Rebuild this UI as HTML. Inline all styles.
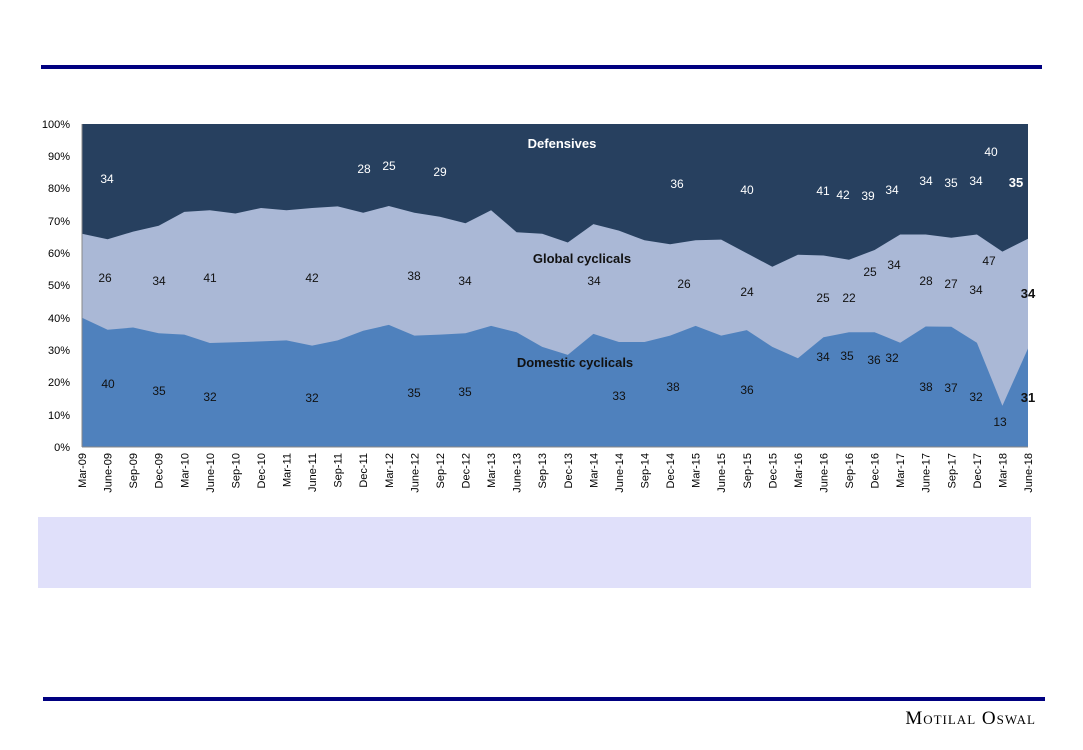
<!DOCTYPE html>
<html><head><meta charset="utf-8"><style>
body{margin:0;background:#fff;width:1083px;height:750px;overflow:hidden;font-family:"Liberation Sans",sans-serif;}
svg{position:absolute;left:0;top:0}
</style></head><body>
<svg id="s" width="1083" height="750" viewBox="0 0 1083 750">
<rect x="41" y="65" width="1001" height="4" fill="#000080"/>
<rect x="43" y="697" width="1002" height="4" fill="#000080"/>
<rect x="38" y="517" width="993" height="71" fill="#e0e0fa"/>
<rect x="82" y="124" width="946" height="323" fill="#27405f"/>
<polygon id="glob" fill="#aab8d6"/>
<polygon id="dom" fill="#4f81bd"/>
<line x1="82" y1="124" x2="82" y2="447" stroke="#888"/>
<line x1="82" y1="447" x2="1028" y2="447" stroke="#888"/>
<g id="yt" font-size="11" fill="#000" text-anchor="end">
<text x="70" y="451">0%</text><text x="70" y="419">10%</text><text x="70" y="386">20%</text><text x="70" y="354">30%</text><text x="70" y="322">40%</text><text x="70" y="289">50%</text><text x="70" y="257">60%</text><text x="70" y="225">70%</text><text x="70" y="192">80%</text><text x="70" y="160">90%</text><text x="70" y="128">100%</text>
</g>
<g id="xt" font-size="11" fill="#000" text-anchor="end">
<text>Mar-09</text><text>June-09</text><text>Sep-09</text><text>Dec-09</text><text>Mar-10</text><text>June-10</text><text>Sep-10</text><text>Dec-10</text><text>Mar-11</text><text>June-11</text><text>Sep-11</text><text>Dec-11</text><text>Mar-12</text><text>June-12</text><text>Sep-12</text><text>Dec-12</text><text>Mar-13</text><text>June-13</text><text>Sep-13</text><text>Dec-13</text><text>Mar-14</text><text>June-14</text><text>Sep-14</text><text>Dec-14</text><text>Mar-15</text><text>June-15</text><text>Sep-15</text><text>Dec-15</text><text>Mar-16</text><text>June-16</text><text>Sep-16</text><text>Dec-16</text><text>Mar-17</text><text>June-17</text><text>Sep-17</text><text>Dec-17</text><text>Mar-18</text><text>June-18</text>
</g>
<g font-size="12" fill="#fff" text-anchor="middle">
<text x="107" y="183">34</text><text x="364" y="173">28</text><text x="389" y="170">25</text><text x="440" y="176">29</text><text x="677" y="188">36</text><text x="747" y="194">40</text><text x="823" y="195">41</text><text x="843" y="199">42</text><text x="868" y="200">39</text><text x="892" y="194">34</text><text x="926" y="185">34</text><text x="951" y="187">35</text><text x="976" y="185">34</text><text x="991" y="156">40</text><text x="1016" y="187" font-weight="bold" font-size="13">35</text>
<text x="562" y="148" font-weight="bold" font-size="13">Defensives</text>
</g>
<g font-size="12" fill="#111" text-anchor="middle">
<text x="105" y="282">26</text><text x="159" y="285">34</text><text x="210" y="282">41</text><text x="312" y="282">42</text><text x="414" y="280">38</text><text x="465" y="285">34</text><text x="594" y="285">34</text><text x="684" y="288">26</text><text x="747" y="296">24</text><text x="823" y="302">25</text><text x="849" y="302">22</text><text x="870" y="276">25</text><text x="894" y="269">34</text><text x="926" y="285">28</text><text x="951" y="288">27</text><text x="976" y="294">34</text><text x="989" y="265">47</text><text x="1028" y="298" font-weight="bold" font-size="13">34</text>
<text x="582" y="263" font-weight="bold" font-size="13">Global cyclicals</text>
<text x="108" y="388">40</text><text x="159" y="395">35</text><text x="210" y="401">32</text><text x="312" y="402">32</text><text x="414" y="397">35</text><text x="465" y="396">35</text><text x="619" y="400">33</text><text x="673" y="391">38</text><text x="747" y="394">36</text><text x="823" y="361">34</text><text x="847" y="360">35</text><text x="874" y="364">36</text><text x="892" y="362">32</text><text x="926" y="391">38</text><text x="951" y="392">37</text><text x="976" y="401">32</text><text x="1000" y="426">13</text><text x="1028" y="402" font-weight="bold" font-size="13">31</text>
<text x="575" y="367" font-weight="bold" font-size="13">Domestic cyclicals</text>
</g>
<text x="1036" y="724" text-anchor="end" font-family="Liberation Serif,serif" font-size="19" fill="#000" style="font-variant:small-caps;letter-spacing:1px">Motilal Oswal</text>
</svg>
<script>
var dom=[40,36.3,37,35.2,34.8,32.2,32.4,32.7,33,31.4,33,36,37.8,34.5,34.8,35.2,37.5,35.5,31,28.5,35,32.5,32.5,34.5,37.5,34.5,36.2,31,27.5,34,35.5,35.5,32.3,37.3,37.2,32.3,12.8,30.5];
var top_=[66,64.3,66.7,68.5,72.8,73.3,72.3,74,73.3,74,74.5,72.5,74.6,72.5,71.3,69.3,73.3,66.5,66,63.3,69,67,64,62.8,64,64.2,60,55.8,59.5,59.3,58,61,65.8,65.8,64.8,65.8,60.5,64.5];
function X(i){return 82+i*946/37;}function Y(p){return 447-p*3.23;}
function poly(a){var s="82,447 ";for(var i=0;i<a.length;i++)s+=X(i).toFixed(1)+","+Y(a[i]).toFixed(1)+" ";return s+"1028,447";}
document.getElementById("glob").setAttribute("points",poly(top_));
document.getElementById("dom").setAttribute("points",poly(dom));
var t=document.querySelectorAll("#xt text");
for(var i=0;i<t.length;i++){var x=X(i)+4,y=453;t[i].setAttribute("transform","translate("+x.toFixed(1)+","+y+") rotate(-90)");}
</script>
</body></html>
